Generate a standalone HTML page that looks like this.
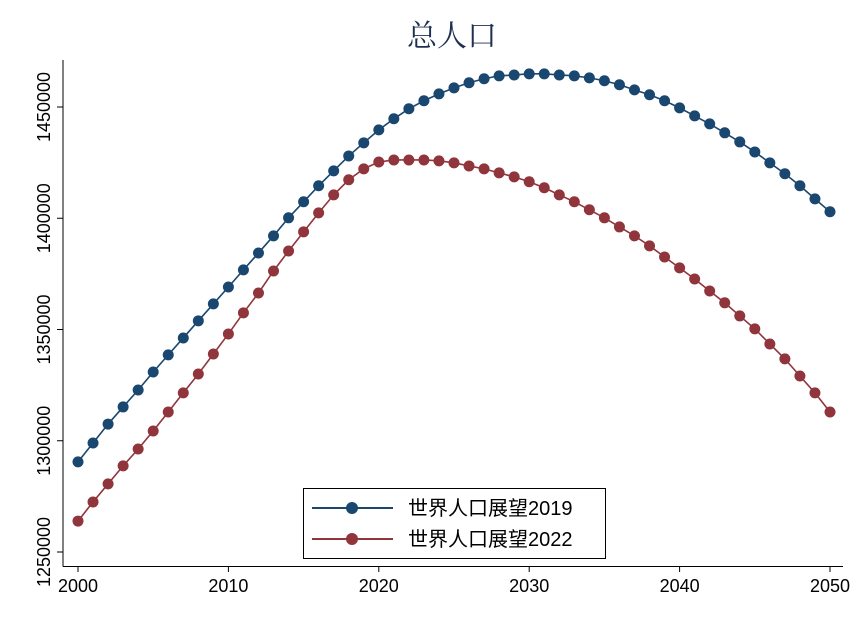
<!DOCTYPE html>
<html><head><meta charset="utf-8"><style>
body{margin:0;background:#fff;}
svg{display:block;font-family:"Liberation Sans","Noto Sans CJK SC",sans-serif;}
</style></head><body>
<svg id="chart" width="865" height="632" viewBox="0 0 865 632">
<text x="452" y="46" text-anchor="middle" font-size="30" fill="#1e2f4f" font-family="'Noto Serif CJK SC',serif">总人口</text>
<g id="axes"></g>
<g id="series"></g>
<g>
<rect x="303.5" y="488.5" width="302" height="70" fill="#fff" stroke="#000" stroke-width="1"/>
<g>
<line x1="312" y1="508" x2="393" y2="508" stroke="#1a476f" stroke-width="2"/>
<circle cx="352" cy="508" r="6" fill="#1a476f"/>
<text x="408" y="515" font-size="20" fill="#000">世界人口展望2019</text></g>
<g>
<line x1="312" y1="539" x2="393" y2="539" stroke="#90353b" stroke-width="2"/>
<circle cx="352" cy="539" r="6" fill="#90353b"/>
<text x="408" y="546" font-size="20" fill="#000">世界人口展望2022</text></g>
</g>
</svg>
<script>
const years=[];for(let y=2000;y<=2050;y++)years.push(y);
const wpp2019=[1290.5,1299.0,1307.5,1315.2,1322.8,1330.9,1338.6,1346.2,1353.9,1361.5,1369.1,1376.8,1384.4,1392.1,1400.2,1407.4,1414.6,1421.3,1428.0,1433.9,1439.7,1444.7,1449.2,1452.8,1455.9,1458.6,1460.9,1462.7,1464.0,1464.4,1464.9,1464.9,1464.4,1464.0,1463.1,1461.8,1460.0,1457.7,1455.5,1452.8,1449.6,1446.0,1442.4,1438.4,1434.3,1429.8,1424.9,1420.0,1414.6,1408.7,1402.9];
const wpp2022=[1263.9,1272.5,1280.6,1288.7,1296.3,1304.4,1312.9,1321.5,1330.0,1339.0,1348.0,1357.5,1366.4,1376.3,1385.3,1393.9,1402.4,1410.5,1417.3,1422.2,1425.3,1426.2,1426.2,1426.2,1425.8,1424.9,1423.5,1422.2,1420.4,1418.6,1416.4,1413.7,1410.5,1407.4,1403.8,1400.2,1396.1,1392.1,1387.6,1382.6,1377.7,1372.7,1367.3,1362.0,1356.1,1350.3,1343.5,1336.8,1329.1,1321.5,1312.9];
const xTicks=[2000,2010,2020,2030,2040,2050];
const yTicks=[1250000,1300000,1350000,1400000,1450000];
const NS="http://www.w3.org/2000/svg";
const X=v=>78+(v-2000)*(830-78)/50;
const Y=v=>552-(v-1250000)*(552-107)/200000;
function mk(t,a,p){const e=document.createElementNS(NS,t);for(const k in a)e.setAttribute(k,a[k]);p.appendChild(e);return e;}
const ax=document.getElementById('axes');
const yl=mk('line',{x1:63,y1:60,x2:63,y2:566.5,stroke:'#000','stroke-width':1},ax);


const xl=mk('line',{x1:63,y1:566.5,x2:843,y2:566.5,stroke:'#000','stroke-width':1},ax);


xTicks.forEach(t=>{
 mk('line',{x1:X(t),y1:566.5,x2:X(t),y2:572,stroke:'#000'},ax);
 const tx=mk('text',{x:X(t),y:592,'text-anchor':'middle','font-size':18},ax);
 tx.textContent=t;
 
 
});
yTicks.forEach(t=>{
 const y=Y(t);
 mk('line',{x1:57,y1:y,x2:63,y2:y,stroke:'#000'},ax);
 const tx=mk('text',{x:0,y:0,'text-anchor':'middle','font-size':18,transform:`translate(50,${y}) rotate(-90)`},ax);
 tx.textContent=t;
 
 
});
const sg=document.getElementById('series');
[[wpp2019,'#1a476f','series-wpp2019'],[wpp2022,'#90353b','series-wpp2022']].forEach(([d,c,n])=>{
 const g=mk('g',{},sg);
 
 
 const pts=d.map((v,i)=>X(years[i])+','+Y(v*1000)).join(' ');
 mk('polyline',{points:pts,fill:'none',stroke:c,'stroke-width':1.6},g);
 d.forEach((v,i)=>{
  const p=mk('circle',{cx:X(years[i]),cy:Y(v*1000),r:5.5,fill:c},g);
  
  
 });
});
</script>
</body></html>
